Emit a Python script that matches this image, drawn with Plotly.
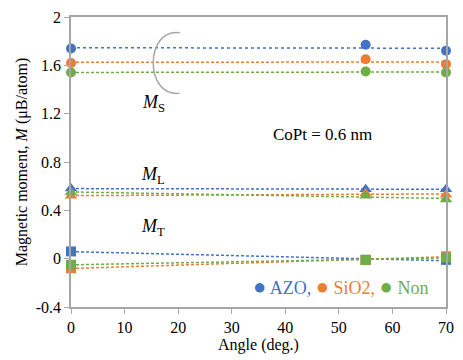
import numpy as np
import plotly.graph_objects as go

angles = [0, 55, 70]
ms_azo = [1.74, 1.77, 1.72]
ms_sio2 = [1.62, 1.65, 1.61]
ms_non = [1.54, 1.55, 1.54]
ml_azo = [0.58, 0.575, 0.575]
ml_sio2 = [0.52, 0.54, 0.53]
ml_non = [0.55, 0.52, 0.49]
mt_azo = [0.06, -0.01, -0.01]
mt_sio2 = [-0.08, -0.01, 0.02]
mt_non = [-0.05, -0.01, 0.01]

y_ticks = [-0.4, 0, 0.4, 0.8, 1.2, 1.6, 2]
y_ticktext = ["-0.4", "0", "0.4", "0.8", "1.2", "1.6", "2"]
x_ticks = [0, 10, 20, 30, 40, 50, 60, 70]

BLUE = "#4472C4"
ORANGE = "#ED7D31"
GREEN = "#70AD47"
FONT = "'Liberation Serif', 'Times New Roman', Times, serif"

fig = go.Figure()

series = [
    (ms_azo, BLUE, "circle", "dot"),
    (ms_sio2, ORANGE, "circle", "3px,2px"),
    (ms_non, GREEN, "circle", "3px,2px"),
    (ml_azo, BLUE, "triangle-up", "3px,2px"),
    (ml_sio2, ORANGE, "triangle-up", "3px,2px"),
    (ml_non, GREEN, "triangle-up", "3px,2px"),
    (mt_azo, BLUE, "square", "3px,2px"),
    (mt_sio2, ORANGE, "square", "3px,2px"),
    (mt_non, GREEN, "square", "3px,2px"),
]

# trendlines (linear fit, like spreadsheet trendlines)
for vals, col, sym, dash in series:
    k, b = np.polyfit(angles, vals, 1)
    xs = [0, 70]
    fig.add_trace(go.Scatter(x=xs, y=[b + k * x for x in xs], mode="lines",
                             line=dict(color=col, width=1.5, dash=dash),
                             showlegend=False, hoverinfo="skip", cliponaxis=False))
for vals, col, sym, dash in series:
    fig.add_trace(go.Scatter(x=angles, y=vals, mode="markers",
                             marker=dict(color=col, symbol=sym, size=10 if sym != "triangle-up" else 11),
                             showlegend=False, cliponaxis=False))

# bracket arc
fig.add_shape(type="path", xref="x", yref="y",
              path="M 20.3 1.87 C 13.7 1.91, 13.7 1.33, 20.3 1.37",
              line=dict(color="#A6A6A6", width=1.5))

ann = []
def lab(text, x, y, size=18):
    ann.append(dict(text=text, x=x, y=y, xref="paper", yref="paper", showarrow=False,
                    font=dict(family=FONT, size=size, color="black")))

lab("<i>M</i><sub>S</sub>", 0.185, 0.748)
lab("<i>M</i><sub>L</sub>", 0.18, 0.455)
lab("<i>M</i><sub>T</sub>", 0.18, 0.228)
lab("CoPt = 0.6 nm", 0.807, 0.595, 17)
ann.append(dict(
    text=(f"<span style='color:{BLUE}'><span style='font-size:22px'>●</span> AZO,</span> "
          f"<span style='color:{ORANGE}'><span style='font-size:22px'>●</span> SiO2,</span> "
          f"<span style='color:{GREEN}'><span style='font-size:22px'>●</span> Non</span>"),
    x=0.958, y=0.07, xref="paper", yref="paper", xanchor="right", yanchor="middle",
    showarrow=False, font=dict(family=FONT, size=18)))

fig.update_layout(
    width=463, height=360,
    margin=dict(l=71, r=9, t=17, b=53),
    paper_bgcolor="white", plot_bgcolor="white",
    font=dict(family=FONT, size=16, color="black"),
    annotations=ann,
    xaxis=dict(range=[0, 70], tickvals=x_ticks, showgrid=False, zeroline=False,
               showline=True, linecolor="#A6A6A6", linewidth=1.5, mirror=True,
               ticks="outside", ticklen=5, tickcolor="#A6A6A6",
               tickfont=dict(family=FONT, size=16),
               title=dict(text="Angle (deg.)", font=dict(family=FONT, size=16), standoff=4)),
    yaxis=dict(range=[-0.4, 2], tickvals=y_ticks, ticktext=y_ticktext, showgrid=False, zeroline=False,
               showline=True, linecolor="#A6A6A6", linewidth=1.5, mirror=True,
               ticks="outside", ticklen=5, tickcolor="#A6A6A6",
               tickfont=dict(family=FONT, size=16),
               title=dict(text="Magnetic moment, <i>M</i> (μB/atom)", font=dict(family=FONT, size=16), standoff=4)),
)

fig.write_html("out.html", config={"displayModeBar": False},
               post_script="document.body.style.margin='0';")
